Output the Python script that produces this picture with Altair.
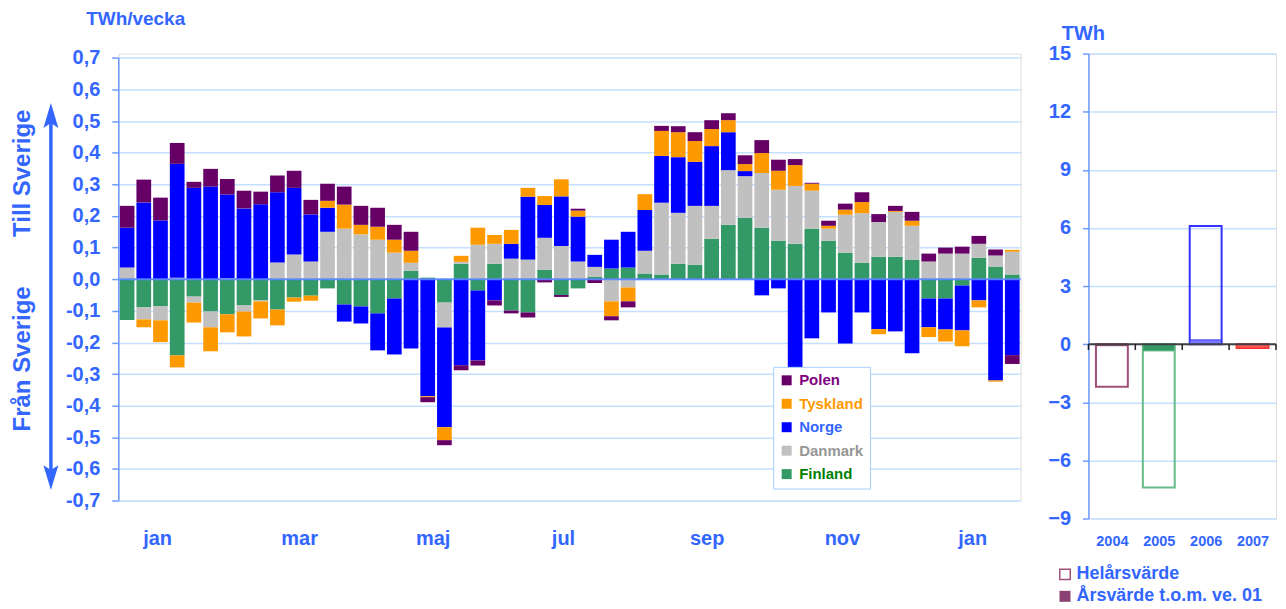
import altair as alt
import pandas as pd

# ---------------- data ----------------
weeks = list(range(1, 55))
finland = [-0.129, -0.089, -0.086, -0.241, -0.055, -0.102, -0.111, -0.083, -0.067, -0.096,
           -0.058, -0.052, -0.029, -0.080, -0.086, -0.108, -0.061, 0.027, 0.005, -0.074,
           0.049, -0.036, 0.049, -0.099, -0.105, 0.030, -0.050, -0.029, 0.008, 0.034,
           0.037, 0.018, 0.015, 0.049, 0.046, 0.128, 0.172, 0.194, 0.163, 0.122,
           0.112, 0.160, 0.122, 0.084, 0.052, 0.071, 0.071, 0.062, -0.061, -0.061,
           -0.020, 0.068, 0.040, 0.015]
danmark = [0.037, -0.038, -0.044, 0.005, -0.019, -0.050, 0.003, -0.019, -0.003, 0.053,
           0.078, 0.056, 0.150, 0.160, 0.142, 0.125, 0.084, 0.025, 0.0, -0.079,
           0.006, 0.109, 0.063, 0.065, 0.062, 0.101, 0.105, 0.056, 0.031, -0.070,
           -0.026, 0.072, 0.227, 0.161, 0.186, 0.104, 0.173, 0.132, 0.173, 0.161,
           0.183, 0.120, 0.038, 0.120, 0.157, 0.110, 0.142, 0.107, 0.056, 0.081,
           0.081, 0.044, 0.035, 0.072]
norge = [0.126, 0.243, 0.186, 0.360, 0.289, 0.293, 0.265, 0.224, 0.237, 0.222,
         0.211, 0.149, 0.076, -0.054, -0.054, -0.117, -0.177, -0.219, -0.370, -0.315,
         -0.272, -0.221, -0.067, 0.047, 0.199, 0.104, 0.157, 0.142, 0.038, 0.091,
         0.113, 0.129, 0.148, 0.176, 0.139, 0.189, 0.120, 0.016, -0.051, -0.029,
         -0.282, -0.187, -0.105, -0.203, -0.105, -0.158, -0.165, -0.234, -0.091, -0.098,
         -0.142, -0.067, -0.320, -0.240]
tyskland = [0.0, -0.025, -0.069, -0.038, -0.063, -0.076, -0.057, -0.079, -0.054, -0.050,
            -0.013, -0.016, 0.022, 0.076, 0.030, 0.041, 0.041, 0.038, -0.003, -0.041,
            0.019, 0.054, 0.028, 0.044, 0.028, 0.028, 0.054, 0.019, 0.0, -0.047,
            -0.044, 0.050, 0.079, 0.079, 0.066, 0.054, 0.038, 0.022, 0.063, 0.060,
            0.066, 0.022, 0.009, 0.016, 0.035, -0.016, 0.003, 0.016, -0.031, -0.038,
            -0.050, -0.022, -0.004, 0.006]
polen = [0.069, 0.072, 0.072, 0.066, 0.019, 0.056, 0.049, 0.056, 0.040, 0.053,
         0.054, 0.046, 0.054, 0.057, 0.060, 0.060, 0.047, 0.060, -0.016, -0.016,
         -0.016, -0.016, -0.016, -0.009, -0.016, -0.010, -0.006, 0.006, -0.012, -0.013,
         -0.019, 0.0, 0.016, 0.019, 0.028, 0.028, 0.022, 0.028, 0.041, 0.035,
         0.019, 0.003, 0.016, 0.019, 0.031, 0.025, 0.016, 0.028, 0.025, 0.019,
         0.022, 0.025, 0.019, -0.028]

countries = ["Polen", "Tyskland", "Norge", "Danmark", "Finland"]
country_colors = ["#660066", "#FF9900", "#0000FF", "#C0C0C0", "#339966"]
stack_order = ["Finland", "Danmark", "Norge", "Tyskland", "Polen"]

month_names = ["jan", "mar", "maj", "jul", "sep", "nov", "jan"]
month_pos = [2.3, 10.8, 18.8, 26.6, 35.2, 43.3, 51.1]

y_ticks_left = [-0.7, -0.6, -0.5, -0.4, -0.3, -0.2, -0.1, 0.0, 0.1, 0.2, 0.3, 0.4, 0.5, 0.6, 0.7]

years = [2004, 2005, 2006, 2007]
helars = [-2.2, -7.4, 6.1, -0.2]
arsvarde = [-0.08, -0.35, 0.22, -0.2]
y_ticks_right = [-9, -6, -3, 0, 3, 6, 9, 12, 15]

# ---------------- build tables ----------------
series = {"Finland": finland, "Danmark": danmark, "Norge": norge,
          "Tyskland": tyskland, "Polen": polen}
rows = []
for i, w in enumerate(weeks):
    for name in stack_order:
        v = series[name][i]
        if v != 0:
            rows.append({"week": w, "country": name, "value": v,
                         "ord": stack_order.index(name)})
df = pd.DataFrame(rows)

rdf = pd.DataFrame({"year": years, "hel": helars, "ars": arsvarde})
bdf = pd.DataFrame({"b": [y - 0.5 for y in years] + [years[-1] + 0.5]})

FONT = "Liberation Sans"
BLUE = "#3366FF"
GRID = "#C4DFFF"
AXIS = "#6F9AFF"

W_L, H_L = 904, 448
W_R, H_R = 188, 466

month_expr = ""
for k in range(len(month_pos) - 1):
    mid = (month_pos[k] + month_pos[k + 1]) / 2
    month_expr += f"datum.value < {mid} ? '{month_names[k]}' : "
month_expr += f"'{month_names[-1]}'"

legend_color_expr = ("datum.label == 'Polen' ? '#800080' : datum.label == 'Tyskland' ? '#FF9900' : "
                     "datum.label == 'Norge' ? '#3366FF' : datum.label == 'Danmark' ? '#969696' : '#008000'")

xs_left = alt.Scale(domain=[0, 54], nice=False, zero=False)
ys_left = alt.Scale(domain=[-0.7, 0.7136], nice=False, zero=False)

yaxis_left = alt.Axis(
    values=y_ticks_left, labelOverlap=False, labelBound=False,
    labelExpr="(datum.value < -0.001 ? '-' : '') + '0,' + round(abs(datum.value)*10)",
    domain=False, ticks=True, tickColor=AXIS, tickSize=7, tickWidth=1.5,
    labelPadding=12, labelFont=FONT, labelFontSize=20, labelFontWeight="bold",
    labelColor=BLUE, grid=True, gridColor=GRID, gridWidth=1.5, title=None)

bars = alt.Chart(df).transform_stack(
    stack="value", groupby=["week"], as_=["v0", "v1"],
    sort=[alt.SortField(field="ord", order="ascending")], offset="zero"
).transform_calculate(
    xa="datum.week - 1 + 0.06", xb="datum.week - 0.06"
).mark_bar().encode(
    x=alt.X("xa:Q", scale=xs_left,
            axis=alt.Axis(values=month_pos, labelExpr=month_expr, domain=False, ticks=False,
                          tickSize=0, grid=False, labelPadding=28, labelFont=FONT,
                          labelFontSize=20, labelFontWeight="bold", labelColor=BLUE, title=None)),
    x2="xb:Q",
    y=alt.Y("v0:Q", scale=ys_left, axis=yaxis_left),
    y2="v1:Q",
    color=alt.Color("country:N", scale=alt.Scale(domain=countries, range=country_colors),
                    legend=alt.Legend(orient="none", legendX=656, legendY=314, title=None,
                                      direction="vertical", symbolType="square", symbolSize=100,
                                      symbolStrokeWidth=0, symbolOpacity=1,
                                      labelFont=FONT, labelFontSize=15, labelFontWeight="bold",
                                      labelColor=alt.ExprRef(expr=legend_color_expr),
                                      fillColor="white", strokeColor="#A8CFFF", padding=6,
                                      rowPadding=7.5, labelOffset=5)),
)

one = pd.DataFrame({"z": [0.0], "lo": [-0.7], "hi": [0.7]})


def label(text, x, y, size, angle=0, align="center"):
    return alt.Chart(pd.DataFrame({"t": [text]})).mark_text(
        font=FONT, fontSize=size, fontWeight="bold", color=BLUE, align=align,
        baseline="middle", angle=angle
    ).encode(x=alt.value(x), y=alt.value(y), text="t:N")


zero_line = alt.Chart(one).mark_rule(color="#5C85FF", strokeWidth=2, opacity=0.9).encode(
    y=alt.Y("z:Q", scale=ys_left, axis=yaxis_left), x=alt.value(0), x2=alt.value(W_L))
axis_line = alt.Chart(one).mark_rule(color=AXIS, strokeWidth=1.5).encode(
    x=alt.value(0), y=alt.Y("lo:Q", scale=ys_left, axis=yaxis_left), y2="hi:Q")

arrow_line = alt.Chart(one).mark_rule(color=BLUE, strokeWidth=3.5).encode(
    x=alt.value(-68), y=alt.value(60), y2=alt.value(427))
arrow_up = alt.Chart(one).mark_point(shape="M0,-1L0.6,1L0,0.6L-0.6,1Z", filled=True, size=625,
                                     color=BLUE, opacity=1).encode(x=alt.value(-68), y=alt.value(62))
arrow_dn = alt.Chart(one).mark_point(shape="M0,1L0.6,-1L0,-0.6L-0.6,-1Z", filled=True, size=625,
                                     color=BLUE, opacity=1).encode(x=alt.value(-68), y=alt.value(425))

left = alt.layer(
    bars, zero_line, axis_line,
    label("TWh/vecka", 17, -35, 19),
    label("Till Sverige", -96, 120, 24, angle=270),
    label("Från Sverige", -96, 306, 24, angle=270),
    arrow_line, arrow_up, arrow_dn
).properties(width=W_L, height=H_L)

# ---------------- right panel ----------------
xs_right = alt.Scale(domain=[2003.5, 2007.5], nice=False, zero=False)
ys_right = alt.Scale(domain=[-9, 15], nice=False, zero=False)
outline_colors = ["#A0507A", "#66BB88", "#3333FF", "#FF3333"]
fill_colors = ["#660033", "#339966", "#7777FF", "#FF5555"]

base_r = alt.Chart(rdf).transform_calculate(xa="datum.year - 0.34", xb="datum.year + 0.34")

outline = base_r.mark_bar(fill="white", fillOpacity=0, strokeWidth=2).encode(
    x=alt.X("xa:Q", scale=xs_right,
            axis=alt.Axis(values=years, format="d", domain=False, ticks=False, tickSize=0, grid=False,
                          labelPadding=16, labelFont=FONT, labelFontSize=14.5, labelFontWeight="bold",
                          labelColor=BLUE, title=None)),
    x2="xb:Q",
    y=alt.Y("hel:Q", scale=ys_right,
            axis=alt.Axis(values=y_ticks_right, labelOverlap=False, domain=True, domainColor=AXIS,
                          domainWidth=1.5, ticks=True, tickColor=AXIS, tickSize=6, tickWidth=1.5,
                          labelPadding=12, labelFont=FONT, labelFontSize=20, labelFontWeight="bold",
                          labelColor=BLUE, grid=True, gridColor=GRID, gridWidth=1.5, title=None)),
    y2=alt.datum(0),
    stroke=alt.Stroke("year:O", scale=alt.Scale(domain=years, range=outline_colors), legend=None),
)
filled = base_r.mark_bar(strokeWidth=1).encode(
    x="xa:Q", x2="xb:Q", y="ars:Q", y2=alt.datum(0),
    fill=alt.Fill("year:O", scale=alt.Scale(domain=years, range=fill_colors), legend=None),
    stroke=alt.Stroke("year:O", scale=alt.Scale(domain=years, range=outline_colors), legend=None),
)
zero_r = alt.Chart(one).mark_rule(color="#404040", strokeWidth=2).encode(
    y=alt.datum(0), x=alt.value(0), x2=alt.value(W_R))
ticks_r = alt.Chart(bdf).mark_rule(color="#202020", strokeWidth=1.5).encode(
    x="b:Q", y=alt.datum(0), y2=alt.datum(-0.3))

leg_sq1 = alt.Chart(one).mark_square(size=110, filled=False, stroke="#A0507A", strokeWidth=1.5,
                                     opacity=1).encode(x=alt.value(-23.5), y=alt.value(522))
leg_sq2 = alt.Chart(one).mark_square(size=121, filled=True, color="#8A4070",
                                     opacity=1).encode(x=alt.value(-23.5), y=alt.value(544))

right = alt.layer(
    outline, filled, zero_r, ticks_r,
    label("TWh", -5, -20, 20),
    label("Helårsvärde", -12, 522, 18, align="left"),
    label("Årsvärde t.o.m. ve. 01", -12, 544, 18, align="left"),
    leg_sq1, leg_sq2
).properties(width=W_R, height=H_R)

chart = alt.hconcat(left, right, spacing=68, bounds="flush").properties(
    padding={"left": 2, "top": 0, "right": 0, "bottom": 0}
).configure_view(stroke=None).configure(background="white").configure_axisY(labelOverlap=False)

chart.save("out.html", embed_options={"renderer": "svg", "actions": False})
